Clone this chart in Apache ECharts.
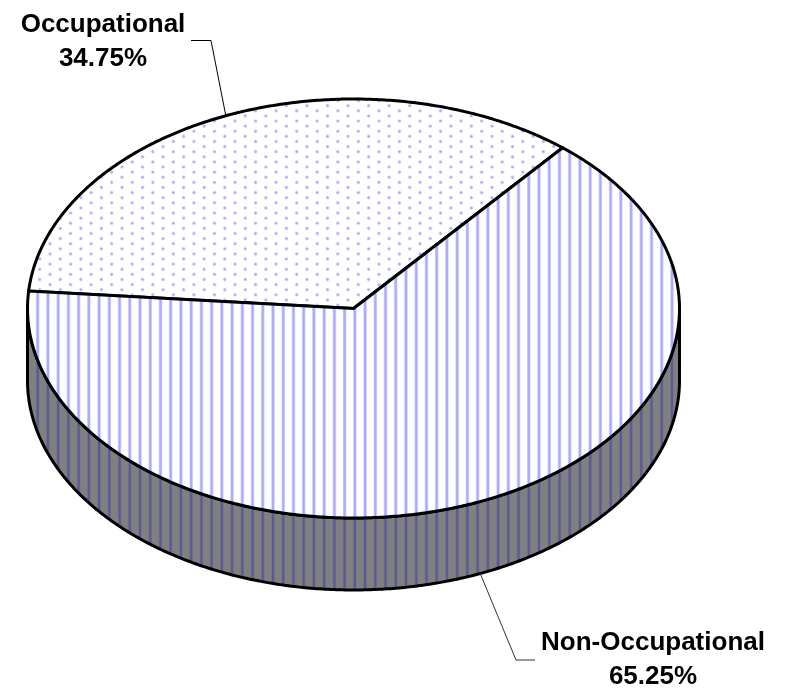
<!DOCTYPE html>
<html>
<head>
<meta charset="utf-8">
<style>html,body{margin:0;padding:0;background:#fff}#chart{width:785px;height:689px}</style>
<script src="https://cdn.jsdelivr.net/npm/echarts@6/dist/echarts.min.js"></script>
</head>
<body>
<div id="chart"></div>
<script>
const categories = ['Occupational', 'Non-Occupational'];
const shares = [34.75, 65.25];

// Layout of the tilted disc
const CX = 353.5, CY = 308.5, RX = 326, RY = 209.5, DEPTH = 72, START_DEG = 274.8;
const STRIPE_PERIOD = 133 / 13, STRIPE_TILE = 133;
const DOT_W = 370, DOT_H = 368, DOT_COLS = 36, DOT_ROWS = 36;
const DOT_PX = DOT_W / DOT_COLS, DOT_PY = DOT_H / DOT_ROWS;

function tile(w, h, paint) {
  const c = document.createElement('canvas');
  c.width = w; c.height = h;
  paint(c.getContext('2d'));
  return { image: c, repeat: 'repeat' };
}
function stripes(ctx, core, edge, w) {
  for (let k = -1; k < 14; k++) {
    const x = 37.7 % STRIPE_PERIOD + k * STRIPE_PERIOD;
    ctx.fillStyle = edge;
    ctx.fillRect(x - w / 2 - 0.7, 0, w + 1.4, STRIPE_TILE);
    ctx.fillStyle = core;
    ctx.fillRect(x - w / 2, 0, w, STRIPE_TILE);
  }
}
const fillDots = tile(DOT_W, DOT_H, ctx => {
  ctx.fillStyle = '#fff'; ctx.fillRect(0, 0, DOT_W, DOT_H);
  const x0 = 50 % DOT_PX, y0 = 243.7 % DOT_PY;
  for (let i = -1; i <= DOT_COLS + 1; i++) for (let j = -1; j <= DOT_ROWS + 1; j++) {
    const n = i + Math.round((50 - x0) / DOT_PX);
    const x = x0 + i * DOT_PX, y = y0 + ((n % 2 + 2) % 2 ? DOT_PY / 2 : 0) + j * DOT_PY;
    const g = ctx.createRadialGradient(x, y, 0, x, y, 2.6);
    g.addColorStop(0, '#a4a4ff'); g.addColorStop(0.4, '#b8b8ff'); g.addColorStop(1, 'rgba(255,255,255,0)');
    ctx.fillStyle = g;
    ctx.beginPath(); ctx.arc(x, y, 2.6, 0, Math.PI * 2); ctx.fill();
  }
});
const fillStripes = tile(STRIPE_TILE, STRIPE_TILE, ctx => {
  ctx.fillStyle = '#fff'; ctx.fillRect(0, 0, STRIPE_TILE, STRIPE_TILE);
  stripes(ctx, '#acacff', '#d8d8ff', 2.2);
});
const fillSide = tile(STRIPE_TILE, STRIPE_TILE, ctx => {
  ctx.fillStyle = '#808080'; ctx.fillRect(0, 0, STRIPE_TILE, STRIPE_TILE);
  stripes(ctx, '#5a5a94', '#72728c', 2);
});
const topFills = [fillDots, fillStripes];

const labelSpec = [
  { x: 103, y: 8, line: [[191, 40.5], [211, 40.5], [225.7, 115]], color: '#000' },
  { x: 653, y: 626, line: [[480, 573], [516, 660], [535, 660]], color: '#333' }
];

function pt(deg, dy) {
  const a = deg * Math.PI / 180;
  return [CX + RX * Math.sin(a), CY - RY * Math.cos(a) + (dy || 0)];
}
function arc(a, b, dy) {
  const out = [], n = Math.max(2, Math.ceil(Math.abs(b - a) * 2));
  for (let i = 0; i <= n; i++) out.push(pt(a + (b - a) * i / n, dy));
  return out;
}

function renderItem(params, api) {
  const total = shares.reduce((s, v) => s + v, 0);
  const i = params.dataIndex;
  const before = shares.slice(0, i).reduce((s, v) => s + v, 0);
  const a0 = START_DEG + before / total * 360;
  const a1 = a0 + api.value(1) / total * 360;
  const children = [];

  // Front wall: the part of the rim between 90deg and 270deg (mod 360)
  const lo = Math.max(a0, 90), hi = Math.min(a1, 270);
  const lo2 = Math.max(a0, 450), hi2 = Math.min(a1, 630);
  [[lo, hi], [lo2, hi2]].forEach(([p, q]) => {
    if (q > p) {
      children.push({
        type: 'polygon', z2: 1,
        shape: { points: arc(p, q, 0).concat(arc(q, p, DEPTH)) },
        style: { fill: fillSide, stroke: '#000', lineWidth: 3, lineJoin: 'round' }
      });
    }
  });
  // Top face
  children.push({
    type: 'polygon', z2: 2,
    shape: { points: [[CX, CY]].concat(arc(a0, a1, 0)) },
    style: { fill: topFills[i], stroke: '#000', lineWidth: 3, lineJoin: 'miter' }
  });
  // Leader and label
  const spec = labelSpec[i];
  children.push({
    type: 'polyline', z2: 3,
    shape: { points: spec.line },
    style: { fill: null, stroke: spec.color, lineWidth: 1 }
  });
  children.push({
    type: 'text', z2: 3,
    style: {
      x: spec.x, y: spec.y,
      text: categories[i] + '\n' + api.value(1).toFixed(2) + '%',
      font: 'bold 26px "Liberation Sans"',
      lineHeight: 34, textAlign: 'center', textVerticalAlign: 'top', fill: '#000'
    }
  });
  return { type: 'group', children };
}

const chart = echarts.init(document.getElementById('chart'), null, { renderer: 'canvas' });
chart.setOption({
  animation: false,
  backgroundColor: '#fff',
  series: [{
    type: 'custom',
    coordinateSystem: 'none',
    renderItem,
    silent: true,
    data: categories.map((c, i) => [c, shares[i]])
  }]
});
</script>
</body>
</html>
